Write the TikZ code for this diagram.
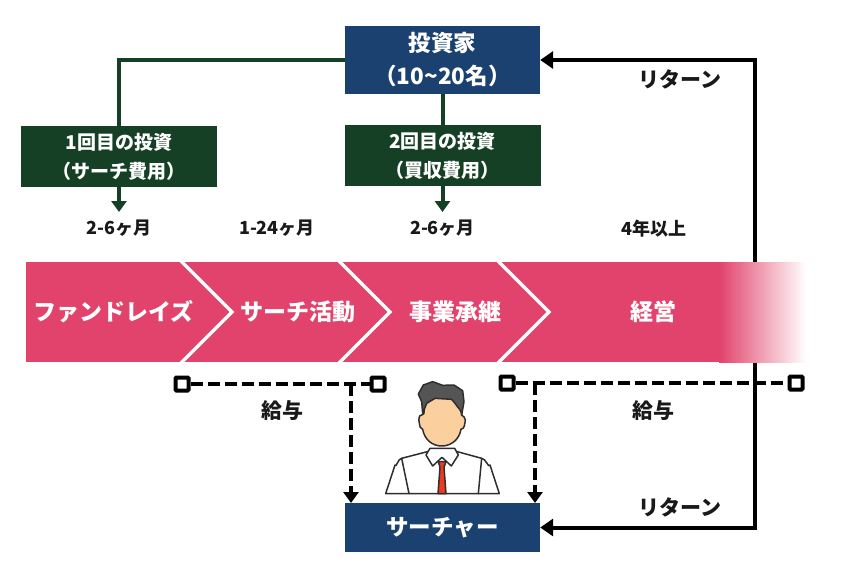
\documentclass[tikz,border=0pt]{standalone}
\usepackage{fontspec}
\setmainfont{Noto Sans CJK JP}
\usepackage{xcolor}
\usetikzlibrary{arrows.meta,positioning,calc}
\definecolor{navybox}{HTML}{1A4170}
\definecolor{greenbox}{HTML}{154025}
\definecolor{barpink}{HTML}{E1436C}
\definecolor{hairgray}{HTML}{555555}
\definecolor{skintone}{HTML}{FBCF9E}
\definecolor{tiered}{HTML}{EE3A24}
\definecolor{linedark}{HTML}{2E2E2E}
\tikzset{
  navy/.style={fill=navybox,text=white,font=\fontsize{22.5}{33}\selectfont\bfseries,align=center,minimum width=195pt,inner sep=0pt},
  green/.style={fill=greenbox,text=white,font=\fontsize{19}{29}\selectfont\bfseries,align=center,minimum width=196pt,minimum height=61pt,inner sep=0pt},
  greenln/.style={greenbox,line width=4pt},
  greenarr/.style={greenln,-{Triangle[length=11pt,width=15pt]}},
  retln/.style={black,line width=4pt,{Triangle[length=13pt,width=17pt]}-{Triangle[length=13pt,width=17pt]}},
  payln/.style={black,line width=4pt,dash pattern=on 12pt off 5pt},
  payarr/.style={payln,-{Triangle[length=11pt,width=15pt]}},
  endbox/.style={draw=black,line width=4pt,rounded corners=1pt,fill=white,minimum size=13pt,inner sep=0pt},
  tlab/.style={font=\fontsize{18}{20}\selectfont\bfseries,text=black!90},
  rlab/.style={font=\fontsize{21}{23}\selectfont\bfseries,text=black!90},
  barlab/.style={font=\fontsize{23}{25}\selectfont\bfseries,text=white},
  sep/.style={white,line width=3.5pt,line join=miter},
  iconln/.style={draw=linedark,line width=1.5pt,line join=round,line cap=round},
}
\begin{document}
\begin{tikzpicture}[x=1pt,y=-1pt]
  \useasboundingbox (0,0) rectangle (856,572);
  % return line stays under the bar
  \node[navy,minimum height=68pt] (inv) at (442.5,60) {投資家\\（10\textasciitilde 20名）};
  \node[navy,minimum height=49pt] (ser) at (442.5,527.5) {サーチャー};
  \coordinate (retA) at (755,60);
  \coordinate (retB) at (755,527.5);
  \draw[retln] (inv.east)--(retA)--(retB)--(ser.east);
  % the bar
  \fill[barpink] (26,262) rectangle (719,362);
  \shade[left color=barpink,right color=white] (719,262) rectangle (806,362);
  \draw[sep] (180,260)--(232,312)--(180,364);
  \draw[sep] (338,260)--(390,312)--(338,364);
  \draw[sep] (497,260)--(549,312)--(497,364);
  \node[barlab] (fund) at (113.5,312) {ファンドレイズ};
  \node[barlab] (srch) at (297.5,312) {サーチ活動};
  \node[barlab] (succ) at (455.5,312) {事業承継};
  \node[barlab] (mgmt) at (653,312) {経営};
  % investments
  \node[green] (invA) at (119,156.5) {1回目の投資\\（サーチ費用）};
  \node[green] (invB) at (442.5,155.5) {2回目の投資\\（買収費用）};
  \coordinate (tipA) at (119,212);
  \coordinate (tipB) at (442.5,212);
  \draw[greenln] (inv.west)-|(invA.north);
  \draw[greenln] (inv.south)--(invB.north);
  \draw[greenarr] (invA.south)--(tipA);
  \draw[greenarr] (invB.south)--(tipB);
  \node[tlab] (durA) at (119,228.5) {2-6ヶ月};
  \node[tlab] (durB) at (277,228.5) {1-24ヶ月};
  \node[tlab] (durC) at (442.5,228.5) {2-6ヶ月};
  \node[tlab] (durD) at (654,228.5) {4年以上};
  \node[rlab] (retT) at (680,79) {リターン};
  \node[rlab] (retS) at (680,507) {リターン};
  % salary lines
  \node[endbox] (payA) at (182,384) {};
  \node[endbox] (payB) at (378,384) {};
  \node[endbox] (payC) at (507,383) {};
  \node[endbox] (payD) at (796,383) {};
  \coordinate (dropA) at (351,384);
  \coordinate (dropB) at (535,383);
  \coordinate (landA) at (351,503);
  \coordinate (landB) at (535,503);
  \draw[payln] (payA)--(payB);
  \draw[payln] (payC)--(payD);
  \draw[payarr] (dropA)--(landA);
  \draw[payarr] (dropB)--(landB);
  \node[rlab] (payT) at (282,411) {給与};
  \node[rlab] (payU) at (653,411) {給与};
  % person
  \begin{scope}[shift={(380,370)},x=0.3333pt,y=-0.3333pt]
    \filldraw[fill=white,iconln] (17,371)--(45,285) to[out=-70,in=180] (65,265)--(142,245)--(232,245)--(305,265) to[out=0,in=-110] (330,285)--(358,371)--cycle;
    \draw[iconln] (65,265)--(87,371);
    \draw[iconln] (305,265)--(295,371);
    \fill[tiered] (175,275)--(198,275)--(192,292)--(198,371)--(174,371)--(180,292)--cycle;
    \draw[iconln] (175,275)--(198,275)--(192,292)--(198,371)--(174,371)--(180,292)--cycle;
    \filldraw[fill=white,iconln] (150,235)--(138,255)--(158,288)--(186,262)--(214,288)--(235,255)--(224,235)--cycle;
    \filldraw[fill=skintone,iconln] (133,100) to[out=-110,in=0] (125,135) to[out=180,in=100] (118,160) to[out=-80,in=170] (128,178) to[out=-80,in=180] (185,228) to[out=0,in=-100] (243,178) to[out=10,in=-100] (256,150) to[out=100,in=-30] (245,135)--(245,85)--(150,80)--cycle;
    \filldraw[fill=hairgray,iconln] (128,130)--(125,95)--(115,72)--(130,45)--(158,35)--(188,46)--(222,45)--(248,62)--(252,95)--(245,135) to[out=90,in=-60] (225,100)--(215,88)--(165,85)--(140,100)--cycle;
  \end{scope}
\end{tikzpicture}
\end{document}
